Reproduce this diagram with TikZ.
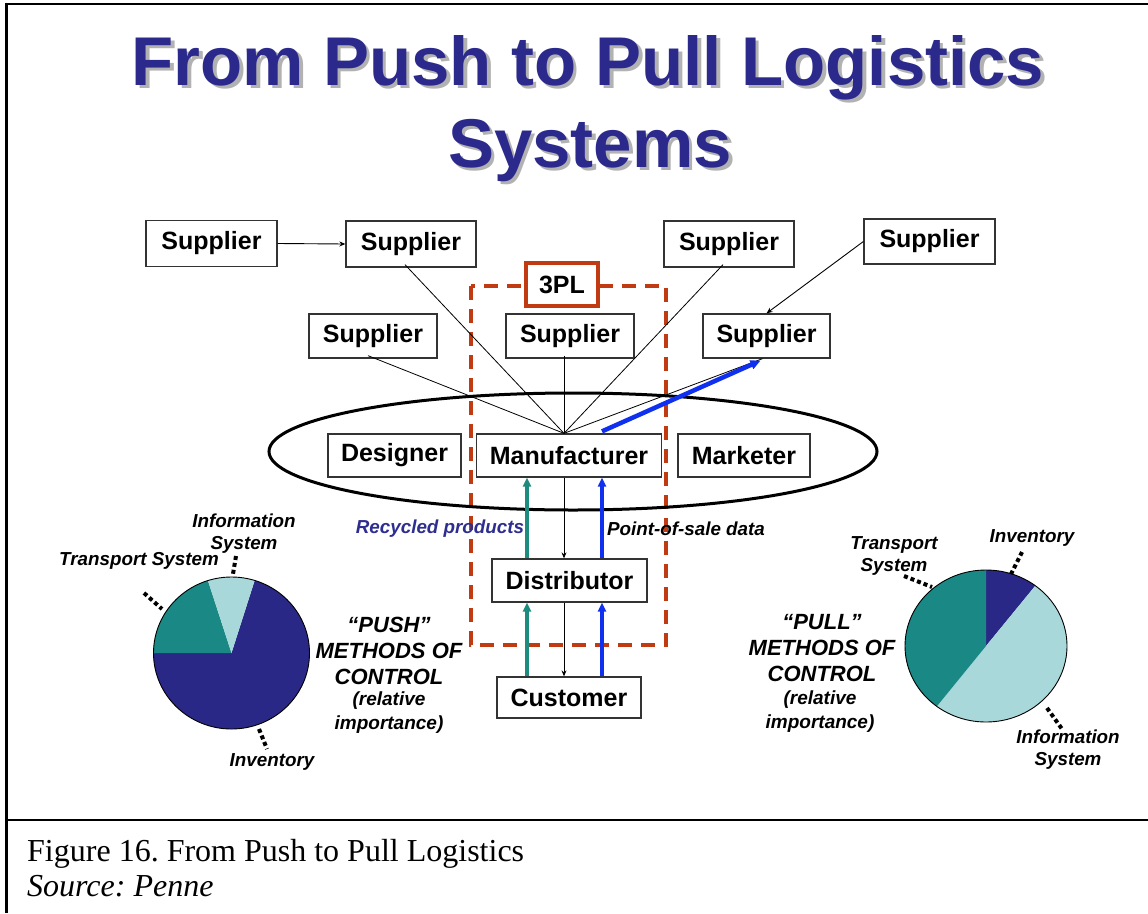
\documentclass[tikz,border=0pt]{standalone}
\usepackage{fontspec}
\setmainfont{Liberation Sans}
\newfontfamily\capfont{Liberation Serif}
\usetikzlibrary{arrows.meta,calc}
\definecolor{titleblue}{HTML}{2B2A8C}
\definecolor{piedark}{HTML}{292887}
\definecolor{pieteal}{HTML}{1A8884}
\definecolor{pielight}{HTML}{A9D8DB}
\definecolor{plred}{HTML}{C03A12}
\definecolor{arrteal}{HTML}{1C8C7E}
\definecolor{arrblue}{HTML}{1030F0}
\definecolor{recblue}{HTML}{2E2E90}
\frenchspacing
\begin{document}
\begin{tikzpicture}[x=1pt,y=-1pt,
  box/.style={draw=black!80, line width=1.3pt, fill=white, inner sep=0pt,
    font=\fontsize{25}{28}\selectfont\bfseries},
  sup/.style={box, minimum width=129pt, minimum height=44pt},
  thinline/.style={line width=0.8pt, black},
  tealarr/.style={draw=arrteal, line width=3.5pt, -{Triangle[length=9pt,width=8pt]}},
  bluearr/.style={draw=arrblue, line width=3.5pt, -{Triangle[length=9pt,width=8pt]}},
  blkarr/.style={line width=0.9pt, -{Stealth[length=6pt,width=5pt]}},
  leader/.style={line width=4pt, dash pattern=on 4pt off 3pt},
  lbl/.style={inner sep=0pt, align=center, font=\fontsize{18.8}{22}\selectfont\bfseries\itshape},
  meth/.style={inner sep=0pt, align=center, font=\fontsize{22}{26}\selectfont\bfseries\itshape},
  rel/.style={inner sep=0pt, align=center, font=\fontsize{19}{24}\selectfont\bfseries\itshape},
  ttl/.style={inner sep=0pt, anchor=base, font=\fontsize{69}{80}\selectfont\bfseries}
]
\useasboundingbox (0,0) rectangle (1148,913);
\fill[white] (0,0) rectangle (1148,913);
% frame
\draw[line width=2.5pt] (6.5,913) -- (6.5,4) -- (1148,4);
\draw[line width=2.5pt] (6.5,820) -- (1148,820);

% title
\node[ttl, text=black!30] at (591.5,88.5) {From Push to Pull Logistics};
\node[ttl, text=titleblue] (t1) at (588,85) {From Push to Pull Logistics};
\node[ttl, text=black!30] at (593.5,170.5) {Systems};
\node[ttl, text=titleblue] (t2) at (590,167) {Systems};

% 3PL dashed region
\draw[plred, line width=4pt, dash pattern=on 14pt off 9pt] (471,286) rectangle (666,645);

% ellipse
\draw[line width=3pt] (573,451.5) ellipse [x radius=304pt, y radius=58.5pt];

% nodes
\node[sup, minimum width=131pt, minimum height=46pt] (s1) at (211.5,243.5) {Supplier};
\node[sup, minimum width=130pt, minimum height=46pt] (s2) at (411,244) {Supplier};
\node[sup, minimum width=130pt, minimum height=46pt] (s3) at (729,244) {Supplier};
\node[sup, minimum width=131pt, minimum height=45pt] (s4) at (929.5,241.5) {Supplier};
\node[sup, minimum width=128pt] (s5) at (373,336) {Supplier};
\node[sup, minimum width=128pt] (s6) at (570,336) {Supplier};
\node[sup, minimum width=127pt] (s7) at (766.5,336) {Supplier};
\node[box, draw=plred, line width=4pt, minimum width=72pt, minimum height=43pt] (pl) at (562,284.5) {3PL};
\node[box, minimum width=133pt, minimum height=43pt] (des) at (394.5,455.5) {Designer};
\node[box, minimum width=185pt, minimum height=43pt] (man) at (569,455.5) {Manufacturer};
\node[box, minimum width=132pt, minimum height=43pt] (mkt) at (744,455.5) {Marketer};
\node[box, minimum width=155pt, minimum height=43pt] (dist) at (569.5,580.5) {Distributor};
\node[box, minimum width=144pt, minimum height=41pt] (cust) at (569,697.5) {Customer};

\coordinate (conv) at ($(man.north)+(-5,0)$);
\coordinate (tx) at (527,0);
\coordinate (bx) at (602,0);
\coordinate (kx) at (564,0);

% supplier lines
\draw[thinline] ($(s5.south)+(-5,-3)$) -- (conv);
\draw[thinline] ($(s2.south)+(-6,-3)$) -- (conv);
\draw[thinline] ($(s6.south)+(-6,-3)$) -- (conv);
\draw[thinline] ($(s3.south)+(-6,-3)$) -- (conv);
\draw[thinline] ($(s7.south)+(-4,0)$) -- (conv);
\draw[blkarr] (s1.east) -- (s2.west);
\draw[blkarr] (s4.west) -- (s7.north);
\draw[draw=arrblue, line width=4.5pt, -{Triangle[length=10pt,width=9pt]}] ($(man.north)+(33,-2)$) -- ($(s7.south)+(-6,2)$);

% vertical flows
\draw[tealarr] (dist.north -| tx) -- (man.south -| tx);
\draw[tealarr] (cust.north -| tx) -- (dist.south -| tx);
\draw[bluearr] (dist.north -| bx) -- (man.south -| bx);
\draw[bluearr] (cust.north -| bx) -- (dist.south -| bx);
\draw[blkarr] (man.south -| kx) -- (dist.north -| kx);
\draw[blkarr] (dist.south -| kx) -- (cust.north -| kx);

\node[lbl, text=recblue] (rec) at (440,529) {Recycled products};
\node[lbl] (pos) at (686,529) {Point-of-sale data};

% push pie
\fill[piedark] (231.5,653) -- ++(72.7:78pt and 76pt) arc[start angle=72.7, end angle=-180, x radius=78pt, y radius=76pt] -- cycle;
\fill[pieteal] (231.5,653) -- ++(180:78pt and 76pt) arc[start angle=180, end angle=107.6, x radius=78pt, y radius=76pt] -- cycle;
\fill[pielight] (231.5,653) -- ++(107.6:78pt and 76pt) arc[start angle=107.6, end angle=72.7, x radius=78pt, y radius=76pt] -- cycle;
\draw[line width=0.9pt] (231.5,653) ellipse [x radius=78pt, y radius=76pt];

% pull pie
\fill[piedark] (986,646) -- ++(90:81pt and 76pt) arc[start angle=90, end angle=52.5, x radius=81pt, y radius=76pt] -- cycle;
\fill[pielight] (986,646) -- ++(52.5:81pt and 76pt) arc[start angle=52.5, end angle=-127.4, x radius=81pt, y radius=76pt] -- cycle;
\fill[pieteal] (986,646) -- ++(232.6:81pt and 76pt) arc[start angle=232.6, end angle=90, x radius=81pt, y radius=76pt] -- cycle;
\draw[line width=0.9pt] (986,646) ellipse [x radius=81pt, y radius=76pt];

% push labels
\node[lbl] (pinf) at (244,534) {Information\\System};
\node[lbl] (ptr) at (139,561) {Transport System};
\node[lbl] (pinv) at (272,762) {Inventory};
\draw[leader] (236,556) -- (233,574);
\draw[leader] (144,593) -- (162,609);
\draw[leader] (259,729) -- (267,749);
\node[meth] (push) at (389,651) {``PUSH''\\METHODS OF\\CONTROL};
\node[rel] (pushr) at (389,713) {(relative\\importance)};

% pull labels
\node[lbl] (qinv) at (1032,538) {Inventory};
\node[lbl] (qtr) at (894,556) {Transport\\System};
\node[lbl] (qinf) at (1068,749.5) {Information\\System};
\draw[leader] (1022,552) -- (1011,574);
\draw[leader] (904,576) -- (932,587);
\draw[leader] (1047,708) -- (1062,729);
\node[meth] (pull) at (822,648) {``PULL''\\METHODS OF\\CONTROL};
\node[rel] (pullr) at (820,712) {(relative\\importance)};

% caption
\node[anchor=base west, inner sep=0pt, font=\capfont\fontsize{32}{36}\selectfont] (cap1) at (27,861) {Figure 16. From Push to Pull Logistics};
\node[anchor=base west, inner sep=0pt, font=\capfont\itshape\fontsize{32}{36}\selectfont] (cap2) at (27,896) {Source: Penne};
\end{tikzpicture}
\end{document}
